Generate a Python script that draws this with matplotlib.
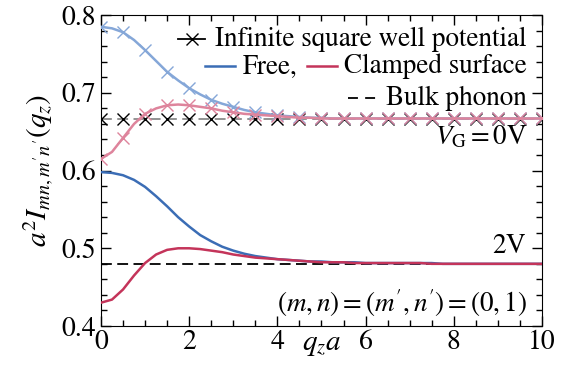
import numpy as np
import matplotlib
matplotlib.use("Agg")
import matplotlib.pyplot as plt
from matplotlib.ticker import MultipleLocator

plt.rcParams['font.family'] = ['STIXGeneral', 'Liberation Serif', 'DejaVu Serif']
plt.rcParams['mathtext.fontset'] = 'stix'

# q_z a grid (markers every 0.5)
q = np.arange(0, 10.01, 0.25)

# V_G = 0 V
free_0v = [0.785, 0.783, 0.778, 0.768, 0.755, 0.741, 0.727, 0.716, 0.706, 0.698,
           0.691, 0.686, 0.682, 0.678, 0.675, 0.673, 0.671, 0.670, 0.669, 0.668,
           0.668, 0.667, 0.667, 0.667, 0.667, 0.667, 0.667, 0.667, 0.667, 0.667,
           0.667, 0.667, 0.667, 0.667, 0.667, 0.667, 0.667, 0.667, 0.667, 0.667, 0.667]
clamped_0v = [0.615, 0.624, 0.642, 0.660, 0.673, 0.680, 0.684, 0.685, 0.684, 0.682,
              0.680, 0.677, 0.675, 0.673, 0.672, 0.671, 0.670, 0.669, 0.668, 0.668,
              0.667, 0.667, 0.667, 0.667, 0.667, 0.667, 0.667, 0.667, 0.667, 0.667,
              0.667, 0.667, 0.667, 0.667, 0.667, 0.667, 0.667, 0.667, 0.667, 0.667, 0.667]
well_0v = [2 / 3] * len(q)
bulk_0v = 2 / 3

# V_G = 2 V
free_2v = [0.598, 0.597, 0.594, 0.588, 0.579, 0.567, 0.554, 0.540, 0.528, 0.517,
           0.509, 0.502, 0.497, 0.493, 0.490, 0.488, 0.486, 0.485, 0.484, 0.483,
           0.483, 0.482, 0.482, 0.482, 0.481, 0.481, 0.481, 0.481, 0.481, 0.481,
           0.481, 0.480, 0.480, 0.480, 0.480, 0.480, 0.480, 0.480, 0.480, 0.480, 0.480]
clamped_2v = [0.430, 0.434, 0.447, 0.465, 0.481, 0.492, 0.498, 0.500, 0.500, 0.499,
              0.497, 0.495, 0.492, 0.490, 0.488, 0.487, 0.486, 0.485, 0.484, 0.483,
              0.482, 0.482, 0.482, 0.481, 0.481, 0.481, 0.481, 0.481, 0.481, 0.481,
              0.480, 0.480, 0.480, 0.480, 0.480, 0.480, 0.480, 0.480, 0.480, 0.480, 0.480]
bulk_2v = 0.48

blue = '#3b6db5'
red = '#c4345a'
light_blue = '#85a7d8'
light_red = '#de849c'
dash = (0, (6, 3))

fig = plt.figure(figsize=(5.61, 3.69), dpi=100)
ax = fig.add_axes([0.180, 0.1165, 0.786, 0.8425])

mk = dict(marker='x', ms=8.5, mew=1.0, markevery=2)

# 0 V curves (faded)
ax.axhline(bulk_0v, color='#8a8a8a', ls=dash, lw=1.3, zorder=1)
ax.plot(q, well_0v, ls='none', color='k', zorder=2, **mk)
ax.plot(q, free_0v, color=light_blue, lw=1.8, zorder=3, **mk)
ax.plot(q, clamped_0v, color=light_red, lw=1.8, zorder=4, **mk)

# 2 V curves
ax.axhline(bulk_2v, color='k', ls=dash, lw=1.3, zorder=1)
ax.plot(q, free_2v, color=blue, lw=1.8, zorder=3)
ax.plot(q, clamped_2v, color=red, lw=1.8, zorder=4)

ax.set_xlim(0, 10)
ax.set_ylim(0.4, 0.8)
ax.xaxis.set_major_locator(MultipleLocator(2))
ax.xaxis.set_minor_locator(MultipleLocator(0.5))
ax.yaxis.set_major_locator(MultipleLocator(0.1))
ax.yaxis.set_minor_locator(MultipleLocator(0.02))
ax.tick_params(which='both', direction='in', top=True, right=True, labelsize=20)
ax.tick_params(which='major', length=7, width=1)
ax.tick_params(which='minor', length=4, width=1)
ax.tick_params(axis='x', pad=3)
ax.set_yticks([0.4, 0.5, 0.6, 0.7, 0.8], ['0.4', '0.5', '0.6', '0.7', '0.8'])

ax.set_xlabel(r'$q_z a$', fontsize=21, labelpad=-16)
ax.set_ylabel(r"$a^2 I_{mn,m'n'}(q_z)$", fontsize=21, labelpad=4)

# legend drawn by hand (row 2 holds two entries)
fs = 19.5
tr = ax.transAxes
ax.plot([0.175, 0.236], [0.923, 0.923], color='k', lw=1.3, transform=tr, clip_on=False)
ax.plot([0.2055], [0.923], color='k', marker='x', ms=8.5, mew=1.0, transform=tr, clip_on=False)
ax.text(0.966, 0.923, 'Infinite square well potential', transform=tr,
        ha='right', va='center', fontsize=fs)
ax.plot([0.236, 0.304], [0.836, 0.836], color=blue, lw=1.8, transform=tr, clip_on=False)
ax.text(0.322, 0.836, 'Free,', transform=tr, ha='left', va='center', fontsize=fs)
ax.plot([0.467, 0.535], [0.836, 0.836], color=red, lw=1.8, transform=tr, clip_on=False)
ax.text(0.966, 0.836, 'Clamped surface', transform=tr, ha='right', va='center', fontsize=fs)
ax.plot([0.560, 0.633], [0.733, 0.733], color='k', ls=(0, (5.5, 4)), lw=1.3,
        transform=tr, clip_on=False)
ax.text(0.966, 0.733, 'Bulk phonon', transform=tr, ha='right', va='center', fontsize=fs)

ax.text(0.966, 0.608, r'$V_{\mathrm{G}} = 0\mathrm{V}$', transform=tr,
        ha='right', va='center', fontsize=fs)
ax.text(0.966, 0.257, r'$2\mathrm{V}$', transform=tr, ha='right', va='center', fontsize=fs)
ax.text(0.966, 0.074, r"$(m, n) = (m', n') = (0, 1)$", transform=tr,
        ha='right', va='center', fontsize=fs)

fig.savefig('out.png', dpi=100)
